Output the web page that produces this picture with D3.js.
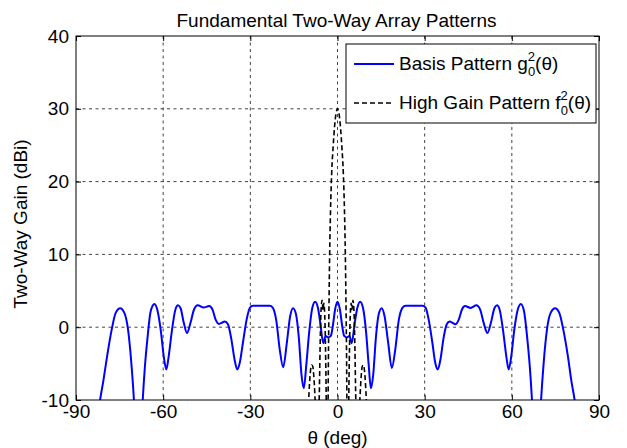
<!DOCTYPE html>
<html>
<head>
<meta charset="utf-8">
<script src="https://cdn.jsdelivr.net/npm/d3@7"></script>
<style>
  body { margin: 0; background: #fff; }
  svg { display: block; font-family: "Liberation Sans", Arial, sans-serif; }
</style>
</head>
<body>
<div id="chart"></div>
<script>
// Basis pattern g0^2(theta)
const basisTheta = [-83.0, -81.7, -80.6, -79.3, -77.8, -76.3, -74.8, -73.4, -72.1, -70.9, -70.0, -68.6, -67.1, -66.3, -65.4, -64.3,
  -63.0, -61.9, -60.8, -59.8, -58.9, -58.1, -57.1, -55.8, -54.9, -54.0, -52.9, -51.8, -50.6, -49.4, -48.1, -46.1,
  -44.2, -43.0, -41.9, -40.8, -39.8, -38.8, -37.7, -36.6, -35.4, -34.5, -33.7, -32.5, -31.3, -30.1, -29.1, -23.3,
  -22.3, -21.1, -19.9, -18.7, -17.4, -16.3, -15.3, -14.3, -13.3, -12.4, -11.6, -10.7, -9.7, -8.7, -7.7, -6.7,
  -5.9, -4.9, -4.1, -3.2, -2.3, -1.6, -0.8, 0,
  0.8, 1.6, 2.3, 3.2, 4.1, 4.9, 5.9, 6.8, 7.8, 8.8, 9.8, 10.7, 11.5, 12.3, 13.2, 14.2,
  15.2, 16.2, 17.4, 18.7, 19.9, 21.1, 22.4, 23.4, 29.3, 30.3, 31.4, 32.6, 33.7, 34.5, 35.4, 36.5,
  37.6, 38.6, 39.6, 40.6, 41.7, 42.8, 43.9, 45.8, 47.8, 49.1, 50.3, 51.6, 52.8, 54.0, 54.9, 55.8,
  57.1, 58.1, 58.9, 59.8, 60.8, 61.9, 63.1, 64.2, 65.3, 66.2, 67.0, 68.5, 70.0, 70.9, 72.1, 73.4,
  74.9, 76.3, 77.8, 79.3, 80.5, 81.6, 83.0];
const basisGain = [-15, -10, -7.4, -4.0, -0.5, 2.0, 2.6, 2.0, -0.3, -5.2, -10.5, -25, -10.5, -5.5, -1.5, 2.2,
  3.2, 2.2, -0.5, -4.0, -5.8, -4.0, -0.8, 2.4, 3.0, 2.6, 0.6, -0.8, 0.6, 2.4, 3.0, 2.7,
  2.9, 2.4, 1.0, 0.45, 0.6, 0.8, 0.4, -1.5, -4.5, -5.8, -5.0, -2.0, 1.0, 2.7, 2.95, 2.95,
  2.7, 1.0, -3.0, -5.5, -2.0, 1.5, 2.6, 1.8, -1.5, -6.5, -8.4, -5.0, -0.5, 2.6, 3.5, 2.6,
  0.5, -2.2, -1.2, -1.4, -1.2, 0.2, 2.5, 3.5,
  2.5, 0.2, -1.2, -1.4, -1.2, -2.2, 0.5, 2.6, 3.5, 2.6, -0.5, -5.0, -8.4, -6.5, -1.5, 1.8,
  2.6, 1.5, -2.0, -5.6, -3.0, 1.0, 2.7, 2.95, 2.95, 2.7, 1.0, -2.0, -5.0, -5.8, -4.5, -1.5,
  0.4, 0.8, 0.6, 0.4, 1.0, 2.4, 2.9, 2.65, 3.0, 2.4, 0.6, -0.8, 0.6, 2.6, 3.0, 2.4,
  -0.8, -4.0, -5.8, -4.0, -0.5, 2.2, 3.2, 2.2, -1.5, -5.5, -10.5, -25, -10.5, -5.2, -0.3, 2.0,
  2.6, 2.0, -0.5, -4.0, -7.4, -10, -15];

// High gain pattern f0^2(theta)
const highTheta = [-10.3, -9.8, -9.3, -8.9, -8.5, -8.2, -7.7, -7.3, -6.6, -6.3, -6.0, -5.7, -5.3, -5.0, -4.7, -4.3,
  -4.0, -3.7, -3.3, -3.1, -2.9, -2.7, -2.4, -2.0, -1.5, -1.0, -0.5, 0,
  0.5, 1.0, 1.5, 2.0, 2.4, 2.7, 2.9, 3.1, 3.3, 3.7, 4.0, 4.3, 4.7, 5.0, 5.3, 5.7,
  6.0, 6.3, 6.6, 7.3, 7.7, 8.2, 8.5, 8.9, 9.3, 9.8, 10.3];
const highGain = [-14, -9, -6.0, -5.2, -5.4, -6.5, -10, -14, -14, -10, -3, 2.0, 3.7, 2.4, 3.3, 0.5,
  -6, -14, -12, -3, 4, 10, 16, 21.2, 24.8, 27.6, 29.4, 30,
  29.4, 27.6, 24.8, 21.2, 16, 10, 4, -3, -12, -14, -6, 0.5, 3.3, 2.4, 3.7, 2.0,
  -3, -10, -14, -14, -10, -6.5, -5.4, -5.2, -6.0, -9, -14];

const xTicks = [-90, -60, -30, 0, 30, 60, 90];
const yTicks = [-10, 0, 10, 20, 30, 40];

const width = 627, height = 448;
const margin = { left: 76, right: 28, top: 36, bottom: 48 };
const plotW = width - margin.left - margin.right;
const plotH = height - margin.top - margin.bottom;

const svg = d3.select('#chart').append('svg')
  .attr('width', width)
  .attr('height', height);

const x = d3.scaleLinear().domain([-90, 90]).range([0, plotW]);
const y = d3.scaleLinear().domain([-10, 40]).range([plotH, 0]);

const g = svg.append('g').attr('transform', `translate(${margin.left},${margin.top})`);

g.append('clipPath').attr('id', 'clip')
  .append('rect').attr('width', plotW).attr('height', plotH);

// grid
g.append('g').selectAll('line')
  .data(xTicks.slice(1, -1)).enter().append('line')
  .attr('x1', d => x(d)).attr('x2', d => x(d))
  .attr('y1', 0).attr('y2', plotH)
  .attr('stroke', '#111').attr('stroke-width', 0.8).attr('stroke-dasharray', '3,3.5');
g.append('g').selectAll('line')
  .data(yTicks.slice(1, -1)).enter().append('line')
  .attr('y1', d => y(d)).attr('y2', d => y(d))
  .attr('x1', 0).attr('x2', plotW)
  .attr('stroke', '#111').attr('stroke-width', 0.8).attr('stroke-dasharray', '3,3.5');

// curves
const basisData = basisTheta.map((t, i) => [t, basisGain[i]]);
const highData = highTheta.map((t, i) => [t, highGain[i]]);
const line = d3.line().x(d => x(d[0])).y(d => y(d[1])).curve(d3.curveMonotoneX);

const curves = g.append('g').attr('clip-path', 'url(#clip)');
curves.append('path').datum(basisData)
  .attr('d', line).attr('fill', 'none')
  .attr('stroke', '#0000ff').attr('stroke-width', 2);
curves.append('path').datum(highData)
  .attr('d', line).attr('fill', 'none')
  .attr('stroke', '#000').attr('stroke-width', 1.6).attr('stroke-dasharray', '5,3');

// axes (ticks inside, like the original)
const fontSize = 19;
const fmt = d => String(d);
const xAxis = g.append('g').attr('transform', `translate(0,${plotH})`)
  .call(d3.axisBottom(x).tickValues(xTicks).tickFormat(fmt).tickSizeInner(-5).tickSizeOuter(0).tickPadding(5));
const yAxis = g.append('g')
  .call(d3.axisLeft(y).tickValues(yTicks).tickFormat(fmt).tickSizeInner(-5).tickSizeOuter(0).tickPadding(7));
g.append('g')
  .call(d3.axisTop(x).tickValues(xTicks).tickSizeInner(-5).tickSizeOuter(0).tickFormat(''));
g.append('g').attr('transform', `translate(${plotW},0)`)
  .call(d3.axisRight(y).tickValues(yTicks).tickSizeInner(-5).tickSizeOuter(0).tickFormat(''));

g.selectAll('.domain').remove();
g.selectAll('.tick line').attr('stroke', '#000');
[xAxis, yAxis].forEach(a => a.selectAll('text')
  .attr('font-size', fontSize).attr('fill', '#000')
  .attr('font-family', '"Liberation Sans", Arial, sans-serif'));

g.append('rect').attr('width', plotW).attr('height', plotH)
  .attr('fill', 'none').attr('stroke', '#000').attr('stroke-width', 1);

// labels
svg.append('text')
  .attr('x', margin.left + plotW / 2 - 1).attr('y', 27)
  .attr('text-anchor', 'middle').attr('font-size', fontSize)
  .text('Fundamental Two-Way Array Patterns');
svg.append('text')
  .attr('x', margin.left + plotW / 2).attr('y', 444)
  .attr('text-anchor', 'middle').attr('font-size', fontSize)
  .text('θ (deg)');
svg.append('text')
  .attr('transform', `translate(27,${margin.top + plotH / 2 + 6}) rotate(-90)`)
  .attr('text-anchor', 'middle').attr('font-size', fontSize)
  .text('Two-Way Gain (dBi)');

// legend
const legend = svg.append('g');
legend.append('rect')
  .attr('x', 346).attr('y', 44).attr('width', 250).attr('height', 79)
  .attr('fill', '#fff').attr('stroke', '#000').attr('stroke-width', 1);

const entries = [
  { name: 'Basis Pattern ', fn: 'g', color: '#0000ff', dash: null, w: 2, y: 64 },
  { name: 'High Gain Pattern ', fn: 'f', color: '#000', dash: '5,3', w: 1.6, y: 103 }
];
entries.forEach(e => {
  legend.append('line')
    .attr('x1', 354).attr('x2', 394).attr('y1', e.y).attr('y2', e.y)
    .attr('stroke', e.color).attr('stroke-width', e.w)
    .attr('stroke-dasharray', e.dash);
  const t = legend.append('text')
    .attr('x', 399).attr('y', e.y + 6).attr('font-size', fontSize);
  t.append('tspan').text(e.name + e.fn);
  t.append('tspan').attr('font-size', 13).attr('dy', -9).text('2');
  t.append('tspan').attr('font-size', 13).attr('dx', -7.2).attr('dy', 15).text('0');
  t.append('tspan').attr('dy', -6).text('(θ)');
});
</script>
</body>
</html>
